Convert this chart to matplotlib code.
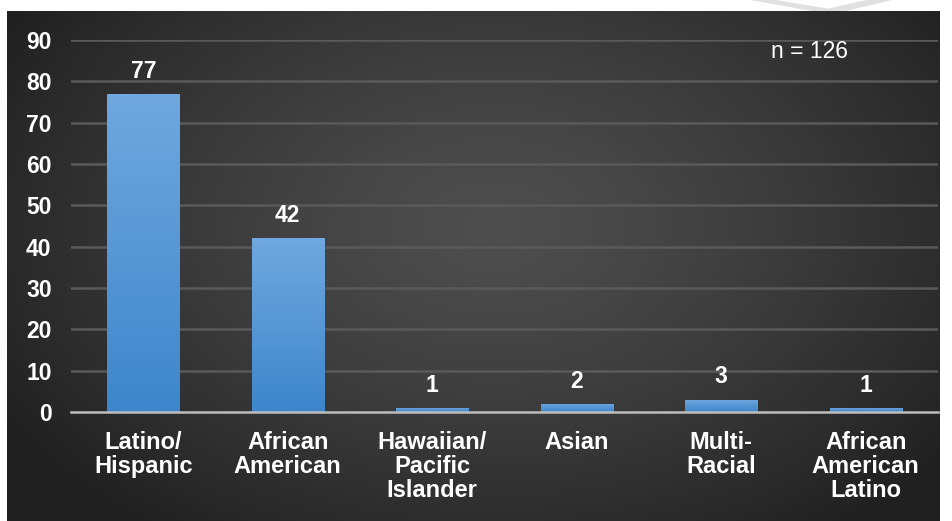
import numpy as np
import matplotlib
matplotlib.use("Agg")
import matplotlib.pyplot as plt
from matplotlib.patches import Polygon

categories = ["Latino/\nHispanic", "African\nAmerican", "Hawaiian/\nPacific\nIslander",
              "Asian", "Multi-\nRacial", "African\nAmerican\nLatino"]
values = [77, 42, 1, 2, 3, 1]
yticks = [0, 10, 20, 30, 40, 50, 60, 70, 80, 90]
note = "n = 126"

W, H = 953, 521
fig = plt.figure(figsize=(W / 100, H / 100), dpi=100, facecolor="white")

# light watermark shape above panel
for pts in ([(750, 0), (776, 0), (842, 11), (812, 11)],
            [(866, 0), (892, 0), (846, 11), (818, 11)]):
    fig.patches.append(Polygon([(x / W, 1 - y / H) for x, y in pts], closed=True,
                               transform=fig.transFigure, facecolor="#e0e0e0",
                               edgecolor="none", zorder=0))

# dark radial background panel
bg = fig.add_axes([7 / W, 0, 933 / W, 510 / H], zorder=0)
ny, nx = 300, 550
yy, xx = np.mgrid[0:ny, 0:nx]
cx, cy = 0.52 * nx, 0.42 * ny
d = np.sqrt(((xx - cx) / (0.62 * nx)) ** 2 + ((yy - cy) / (0.75 * ny)) ** 2)
d = np.clip(d, 0, 1)
light = np.array([0x4e, 0x4e, 0x4e]) / 255
dark = np.array([0x20, 0x20, 0x20]) / 255
img = light[None, None, :] * (1 - d[..., None] ** 1.3) + dark[None, None, :] * d[..., None] ** 1.3
bg.imshow(img, aspect="auto", extent=[0, 1, 0, 1], origin="upper")
bg.set_axis_off()

ax = fig.add_axes([71 / W, 1 - 412 / H, 867 / W, 372 / H], zorder=1)
ax.patch.set_alpha(0)
x = np.arange(len(categories))
bars = ax.bar(x, values, width=0.5, color="#5b9bd5", zorder=3)

# vertical gradient fill on each bar
grad = np.linspace(0, 1, 256)[:, None]
top_c = np.array([0x70, 0xa8, 0xdf]) / 255
bot_c = np.array([0x3d, 0x86, 0xcb]) / 255
gimg = top_c[None, None, :] * (1 - grad[..., None]) + bot_c[None, None, :] * grad[..., None]
for b in bars:
    bx, by, bw, bh = b.get_x(), b.get_y(), b.get_width(), b.get_height()
    im = ax.imshow(gimg, extent=[bx, bx + bw, by, by + bh], aspect="auto",
                   origin="upper", zorder=3.5)
    im.set_clip_path(b)

ax.set_xlim(-0.5, len(categories) - 0.5)
ax.set_ylim(0, 90)
ax.set_yticks(yticks)
ax.set_yticklabels([str(t) for t in yticks])
ax.set_xticks(x)
ax.set_xticklabels(categories, linespacing=1.04)
for s in ["left", "right", "top"]:
    ax.spines[s].set_visible(False)
ax.spines["bottom"].set_color("#bdbdbd")
ax.spines["bottom"].set_linewidth(1.8)
ax.spines["bottom"].set_zorder(4)
ax.tick_params(axis="both", length=0, colors="white")
ax.tick_params(axis="y", pad=14)
ax.tick_params(axis="x", pad=14)
for lab in ax.get_yticklabels():
    lab.set_fontfamily("Liberation Sans")
    lab.set_fontweight("bold")
    lab.set_fontsize(16.5)
for lab in ax.get_xticklabels():
    lab.set_fontfamily("Liberation Sans")
    lab.set_fontweight("bold")
    lab.set_fontsize(17)
    lab.set_verticalalignment("top")

for t in yticks[1:]:
    ax.axhline(t, color="#5a5a5a", lw=1.8, zorder=1)

for xi, v in zip(x, values):
    ax.annotate(str(v), (xi, v), xytext=(0, 8), textcoords="offset points",
                ha="center", va="bottom", color="white", fontsize=16.5,
                fontweight="bold", fontfamily="Liberation Sans", zorder=5)

ax.text(0.852, 0.97, note, transform=ax.transAxes, color="white", fontsize=16.5,
        fontfamily="Liberation Sans", ha="center", va="center")

fig.savefig("out.png", dpi=100, facecolor="white")
